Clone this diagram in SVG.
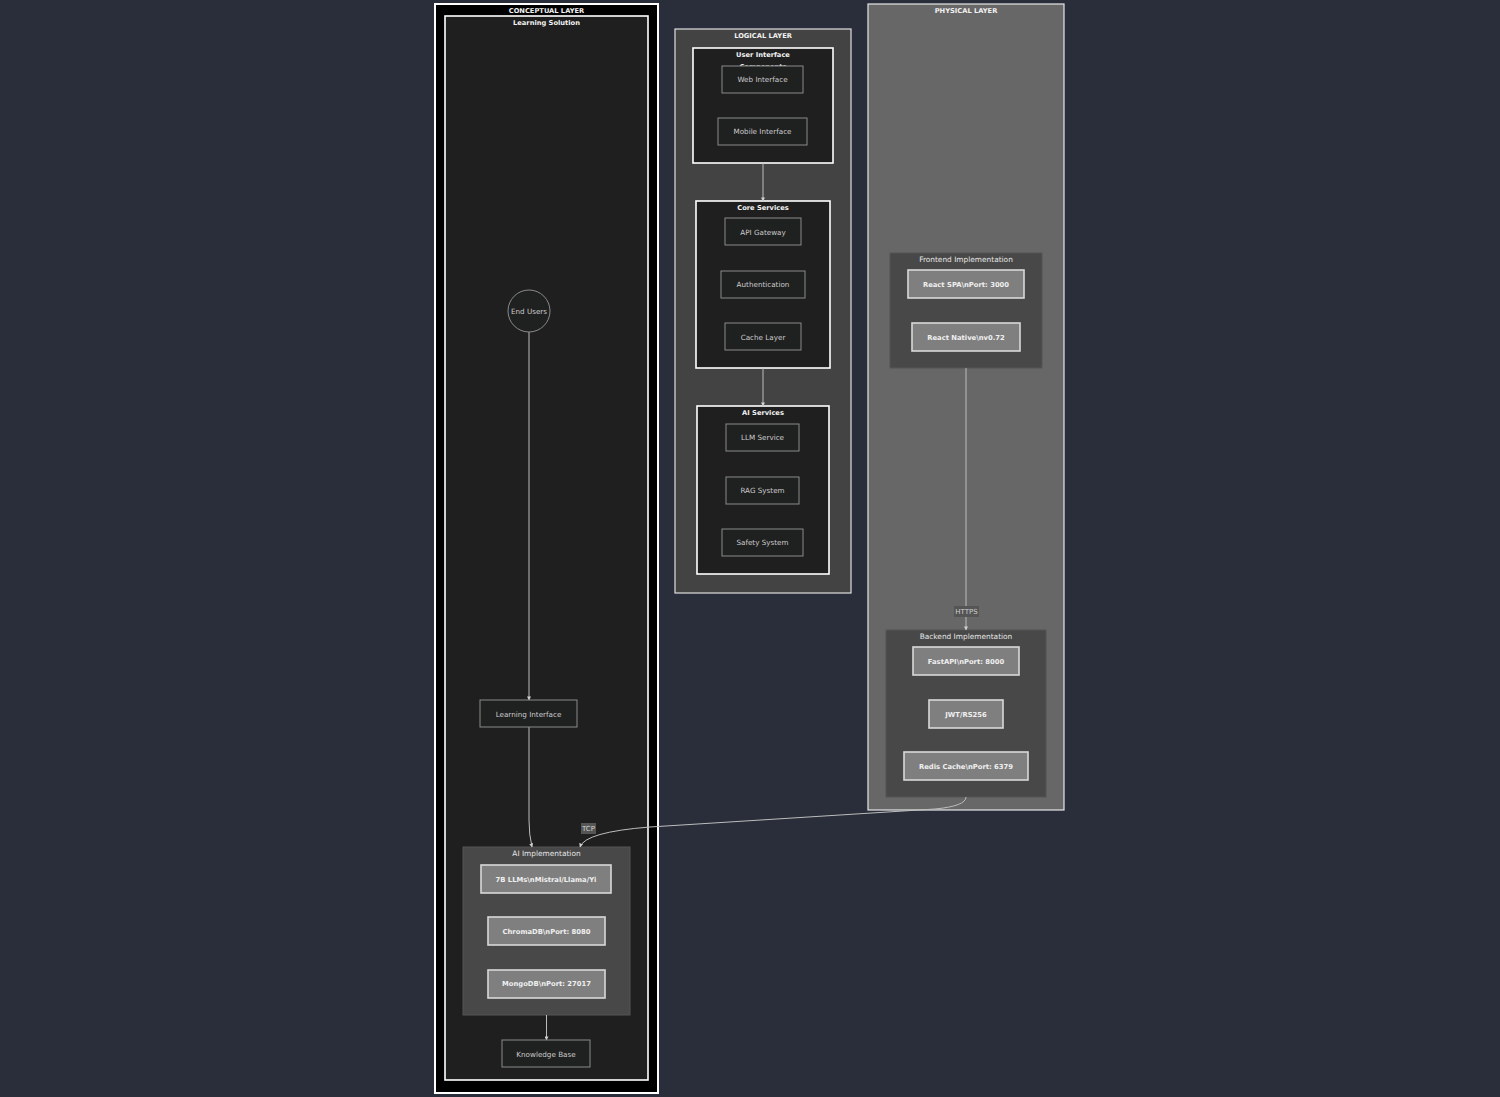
<svg xmlns="http://www.w3.org/2000/svg" width="1500" height="1097" viewBox="0 0 1500 1097">
  <style>
    text { font-family: "DejaVu Sans", Verdana, sans-serif; text-anchor: middle; dominant-baseline: central; }
    .title { font-size: 6.7px; font-weight: bold; fill: #f2f2f2; }
    .sub { font-size: 7.4px; fill: #e6e6e6; }
    .lbl { font-size: 7.2px; fill: #cccccc; }
    .plbl { font-size: 6.8px; font-weight: bold; fill: #f0f0f0; }
    .node { fill: #1f2020; stroke: #8a8a8a; stroke-width: 1; }
    .pnode { fill: #7f7f7f; stroke: #d9d9d9; stroke-width: 1.6; }
    .dark { fill: #1f1f1f; stroke: #ffffff; stroke-width: 1.6; }
    .impl { fill: #484848; stroke: #555555; stroke-width: 1; }
    .edge { fill: none; stroke: #bdbdbd; stroke-width: 1; marker-end: url(#arrow); }
    .elbl { font-size: 7px; fill: #d0d0d0; }
  </style>
  <defs>
    <marker id="arrow" viewBox="0 0 10 10" refX="9" refY="5" markerWidth="4" markerHeight="4" orient="auto">
      <path d="M0,0 L10,5 L0,10 z" fill="#d0d0d0"/>
    </marker>
  </defs>

  <rect x="0" y="0" width="1500" height="1097" fill="#292e3a"/>

  <!-- Conceptual layer -->
  <g id="conceptual-layer">
    <rect x="435" y="4" width="223" height="1089" fill="#000000" stroke="#ffffff" stroke-width="2"/>
    <text class="title" x="546.5" y="10.5">CONCEPTUAL LAYER</text>
  </g>
  <g id="learning-solution">
    <rect x="445" y="16" width="203" height="1064" class="dark"/>
    <text class="title" x="546.5" y="22.5">Learning Solution</text>
  </g>

  <!-- Logical layer -->
  <g id="logical-layer">
    <rect x="675" y="29" width="176" height="564" fill="#434343" stroke="#e0e0e0" stroke-width="1.2"/>
    <text class="title" x="763" y="35.5">LOGICAL LAYER</text>
  </g>
  <g id="ui-components">
    <rect x="693" y="48" width="140" height="115" class="dark"/>
    <text class="title" x="763" y="55">User Interface</text>
    <text class="title" x="763" y="67">Components</text>
  </g>
  <g id="core-services">
    <rect x="696" y="201" width="134" height="167" class="dark"/>
    <text class="title" x="763" y="207.5">Core Services</text>
  </g>
  <g id="ai-services">
    <rect x="697" y="406" width="132" height="168" class="dark"/>
    <text class="title" x="763" y="412.5">AI Services</text>
  </g>

  <!-- Physical layer -->
  <g id="physical-layer">
    <rect x="868" y="4" width="196" height="806" fill="#676767" stroke="#e6e6e6" stroke-width="1.2"/>
    <text class="title" x="966" y="10.5">PHYSICAL LAYER</text>
  </g>
  <g id="frontend-impl">
    <rect x="890" y="253" width="152" height="115" class="impl"/>
    <text class="sub" x="966" y="259.5">Frontend Implementation</text>
  </g>
  <g id="backend-impl">
    <rect x="886" y="630" width="160" height="167" class="impl"/>
    <text class="sub" x="966" y="636.5">Backend Implementation</text>
  </g>
  <g id="ai-impl">
    <rect x="463" y="847" width="167" height="168" class="impl"/>
    <text class="sub" x="546.5" y="853.5">AI Implementation</text>
  </g>

  <!-- Connectors -->
  <g id="connectors">
    <path class="edge" d="M529,332 L529,700"/>
    <path class="edge" d="M529,727 L529,820 Q529,835 532,847"/>
    <path class="edge" d="M546.5,1015 L546.5,1040"/>
    <path class="edge" d="M763,163 L763,201"/>
    <path class="edge" d="M763,368 L763,406"/>
    <path class="edge" d="M966,368 L966,630"/>
    <path class="edge" d="M966,797 Q966,806 935,809 L650,827 Q585,832 580,847"/>
    <rect x="954" y="606" width="25" height="11" fill="#555555"/>
    <text class="elbl" x="966.5" y="611.5">HTTPS</text>
    <rect x="581" y="823" width="15" height="11" fill="#555555"/>
    <text class="elbl" x="588.5" y="829">TCP</text>
  </g>

  <!-- Conceptual nodes -->
  <g id="end-users">
    <circle cx="529" cy="311" r="21" fill="#1f2020" stroke="#8a8a8a" stroke-width="1"/>
    <text class="lbl" x="529" y="311.5">End Users</text>
  </g>
  <g id="learning-interface">
    <rect x="480" y="700" width="97" height="27" class="node"/>
    <text class="lbl" x="528.5" y="714">Learning Interface</text>
  </g>
  <g id="knowledge-base">
    <rect x="502" y="1040" width="88" height="27" class="node"/>
    <text class="lbl" x="546" y="1054">Knowledge Base</text>
  </g>

  <!-- Logical nodes -->
  <g id="web-interface">
    <rect x="722" y="66" width="81" height="27" class="node"/>
    <text class="lbl" x="762.5" y="79.5">Web Interface</text>
  </g>
  <g id="mobile-interface">
    <rect x="718" y="118" width="89" height="27" class="node"/>
    <text class="lbl" x="762.5" y="131.5">Mobile Interface</text>
  </g>
  <g id="api-gateway">
    <rect x="725" y="218" width="76" height="27" class="node"/>
    <text class="lbl" x="763" y="232">API Gateway</text>
  </g>
  <g id="authentication">
    <rect x="721" y="271" width="84" height="27" class="node"/>
    <text class="lbl" x="763" y="284.5">Authentication</text>
  </g>
  <g id="cache-layer">
    <rect x="725" y="323" width="76" height="27" class="node"/>
    <text class="lbl" x="763" y="337">Cache Layer</text>
  </g>
  <g id="llm-service">
    <rect x="726" y="424" width="73" height="27" class="node"/>
    <text class="lbl" x="762.5" y="437.5">LLM Service</text>
  </g>
  <g id="rag-system">
    <rect x="726" y="477" width="73" height="27" class="node"/>
    <text class="lbl" x="762.5" y="490.5">RAG System</text>
  </g>
  <g id="safety-system">
    <rect x="722" y="529" width="81" height="27" class="node"/>
    <text class="lbl" x="762.5" y="542.5">Safety System</text>
  </g>

  <!-- Physical nodes -->
  <g id="react-spa">
    <rect x="908" y="270" width="116" height="28" class="pnode"/>
    <text class="plbl" x="966" y="284.5">React SPA\nPort: 3000</text>
  </g>
  <g id="react-native">
    <rect x="912" y="323" width="108" height="28" class="pnode"/>
    <text class="plbl" x="966" y="337.5">React Native\nv0.72</text>
  </g>
  <g id="fastapi">
    <rect x="913" y="647" width="106" height="28" class="pnode"/>
    <text class="plbl" x="966" y="661.5">FastAPI\nPort: 8000</text>
  </g>
  <g id="jwt">
    <rect x="929" y="700" width="74" height="28" class="pnode"/>
    <text class="plbl" x="966" y="714.5">JWT/RS256</text>
  </g>
  <g id="redis">
    <rect x="904" y="752" width="124" height="28" class="pnode"/>
    <text class="plbl" x="966" y="766.5">Redis Cache\nPort: 6379</text>
  </g>
  <g id="llms">
    <rect x="481" y="865" width="130" height="28" class="pnode"/>
    <text class="plbl" x="546" y="879.5">7B LLMs\nMistral/Llama/Yi</text>
  </g>
  <g id="chromadb">
    <rect x="488" y="917" width="117" height="28" class="pnode"/>
    <text class="plbl" x="546.5" y="931.5">ChromaDB\nPort: 8080</text>
  </g>
  <g id="mongodb">
    <rect x="488" y="970" width="117" height="28" class="pnode"/>
    <text class="plbl" x="546.5" y="984">MongoDB\nPort: 27017</text>
  </g>
</svg>
